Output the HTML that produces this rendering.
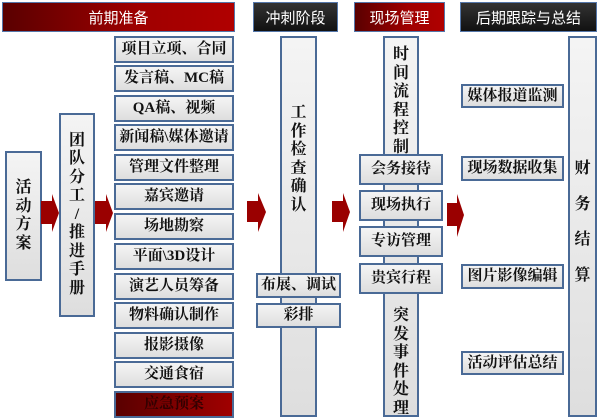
<!DOCTYPE html>
<html><head><meta charset="utf-8"><style>
body{margin:0;width:601px;height:419px;background:#fff;position:relative;overflow:hidden;font-family:"Liberation Serif","Noto Serif CJK SC",serif;font-weight:bold;color:#111}
.b{position:absolute;box-sizing:border-box;border:2px solid #4a6a96;background:linear-gradient(#f4f4f4,#dedede);display:flex;align-items:center;justify-content:center;font-size:15px;text-align:center;line-height:1;white-space:nowrap}
.v{flex-direction:column;font-size:16px}
.v span{display:block;line-height:18.5px}
.h{position:absolute;box-sizing:border-box;border:1px solid #5577aa;color:#fff;font-weight:normal;font-family:"Liberation Sans","Noto Sans CJK SC",sans-serif;font-size:15px;display:flex;align-items:center;justify-content:center}
.red{background:linear-gradient(90deg,#5a0000,#a00000 60%,#b00000)}
.blk{background:linear-gradient(#333,#111)}
.ar{position:absolute}
</style></head><body>
<div class="h red" style="left:2px;top:2px;width:233px;height:30px">前期准备</div>
<div class="h blk" style="left:253px;top:2px;width:85px;height:30px">冲刺阶段</div>
<div class="h red" style="left:354px;top:2px;width:91px;height:30px">现场管理</div>
<div class="h blk" style="left:460px;top:2px;width:137px;height:30px">后期跟踪与总结</div>

<div class="b v" style="left:5px;top:151px;width:37px;height:130px"><span>活</span><span>动</span><span>方</span><span>案</span></div>
<div class="b v" style="left:59px;top:113px;width:36px;height:204px"><span>团</span><span>队</span><span>分</span><span>工</span><span>/</span><span>推</span><span>进</span><span>手</span><span>册</span></div>

<div class="b" style="left:114px;top:36px;width:120px;height:27px">项目立项、合同</div>
<div class="b" style="left:114px;top:65px;width:120px;height:27px">发言稿、MC稿</div>
<div class="b" style="left:114px;top:95px;width:120px;height:27px">QA稿、视频</div>
<div class="b" style="left:114px;top:124px;width:120px;height:27px">新闻稿\媒体邀请</div>
<div class="b" style="left:114px;top:154px;width:120px;height:27px">管理文件整理</div>
<div class="b" style="left:114px;top:183px;width:120px;height:27px">嘉宾邀请</div>
<div class="b" style="left:114px;top:213px;width:120px;height:27px">场地勘察</div>
<div class="b" style="left:114px;top:243px;width:120px;height:27px">平面\3D设计</div>
<div class="b" style="left:114px;top:273px;width:120px;height:27px">演艺人员筹备</div>
<div class="b" style="left:114px;top:302px;width:120px;height:27px">物料确认制作</div>
<div class="b" style="left:114px;top:332px;width:120px;height:27px">报影摄像</div>
<div class="b" style="left:114px;top:361px;width:120px;height:27px">交通食宿</div>
<div class="b" style="left:114px;top:391px;width:120px;height:27px;background:linear-gradient(90deg,#5a0000,#a00000);color:#300">应急预案</div>

<div class="b v" style="left:280px;top:36px;width:37px;height:381px;justify-content:flex-start;padding-top:66px"><span>工</span><span>作</span><span>检</span><span>查</span><span>确</span><span>认</span></div>
<div class="b" style="left:256px;top:273px;width:85px;height:25px">布展、调试</div>
<div class="b" style="left:256px;top:303px;width:85px;height:25px">彩排</div>

<div class="b v" style="left:383px;top:36px;width:36px;height:381px;justify-content:flex-start;padding-top:8px"><span>时</span><span>间</span><span>流</span><span>程</span><span>控</span><span>制</span>
<span style="margin-top:150px">突</span><span>发</span><span>事</span><span>件</span><span>处</span><span>理</span></div>
<div class="b" style="left:359px;top:154px;width:84px;height:31px">会务接待</div>
<div class="b" style="left:359px;top:190px;width:84px;height:31px">现场执行</div>
<div class="b" style="left:359px;top:226px;width:84px;height:31px">专访管理</div>
<div class="b" style="left:359px;top:263px;width:84px;height:31px">贵宾行程</div>

<div class="b" style="left:461px;top:84px;width:103px;height:24px">媒体报道监测</div>
<div class="b" style="left:461px;top:156px;width:103px;height:25px">现场数据收集</div>
<div class="b" style="left:461px;top:264px;width:103px;height:25px">图片影像编辑</div>
<div class="b" style="left:461px;top:351px;width:103px;height:24px">活动评估总结</div>
<div class="b v" style="left:568px;top:36px;width:29px;height:381px;justify-content:flex-start;padding-top:122px"><span>财</span><span style="margin-top:17px">务</span><span style="margin-top:17px">结</span><span style="margin-top:17px">算</span></div>

<svg class="ar" style="left:0;top:0" width="601" height="419">
<g fill="#9a0000">
<polygon points="41,201 52,201 52,194 59,213 52,232 52,224 41,224"/>
<polygon points="95,201 106,201 106,194 113,213 106,232 106,224 95,224"/>
<polygon points="247,201 258,201 258,193 266,212 258,232 258,222 247,222"/>
<polygon points="332,201 343,201 343,193 350,212 343,232 343,222 332,222"/>
<polygon points="447,203 457,203 457,194 464,215 457,237 457,226 447,226"/>
</g></svg>
</body></html>
